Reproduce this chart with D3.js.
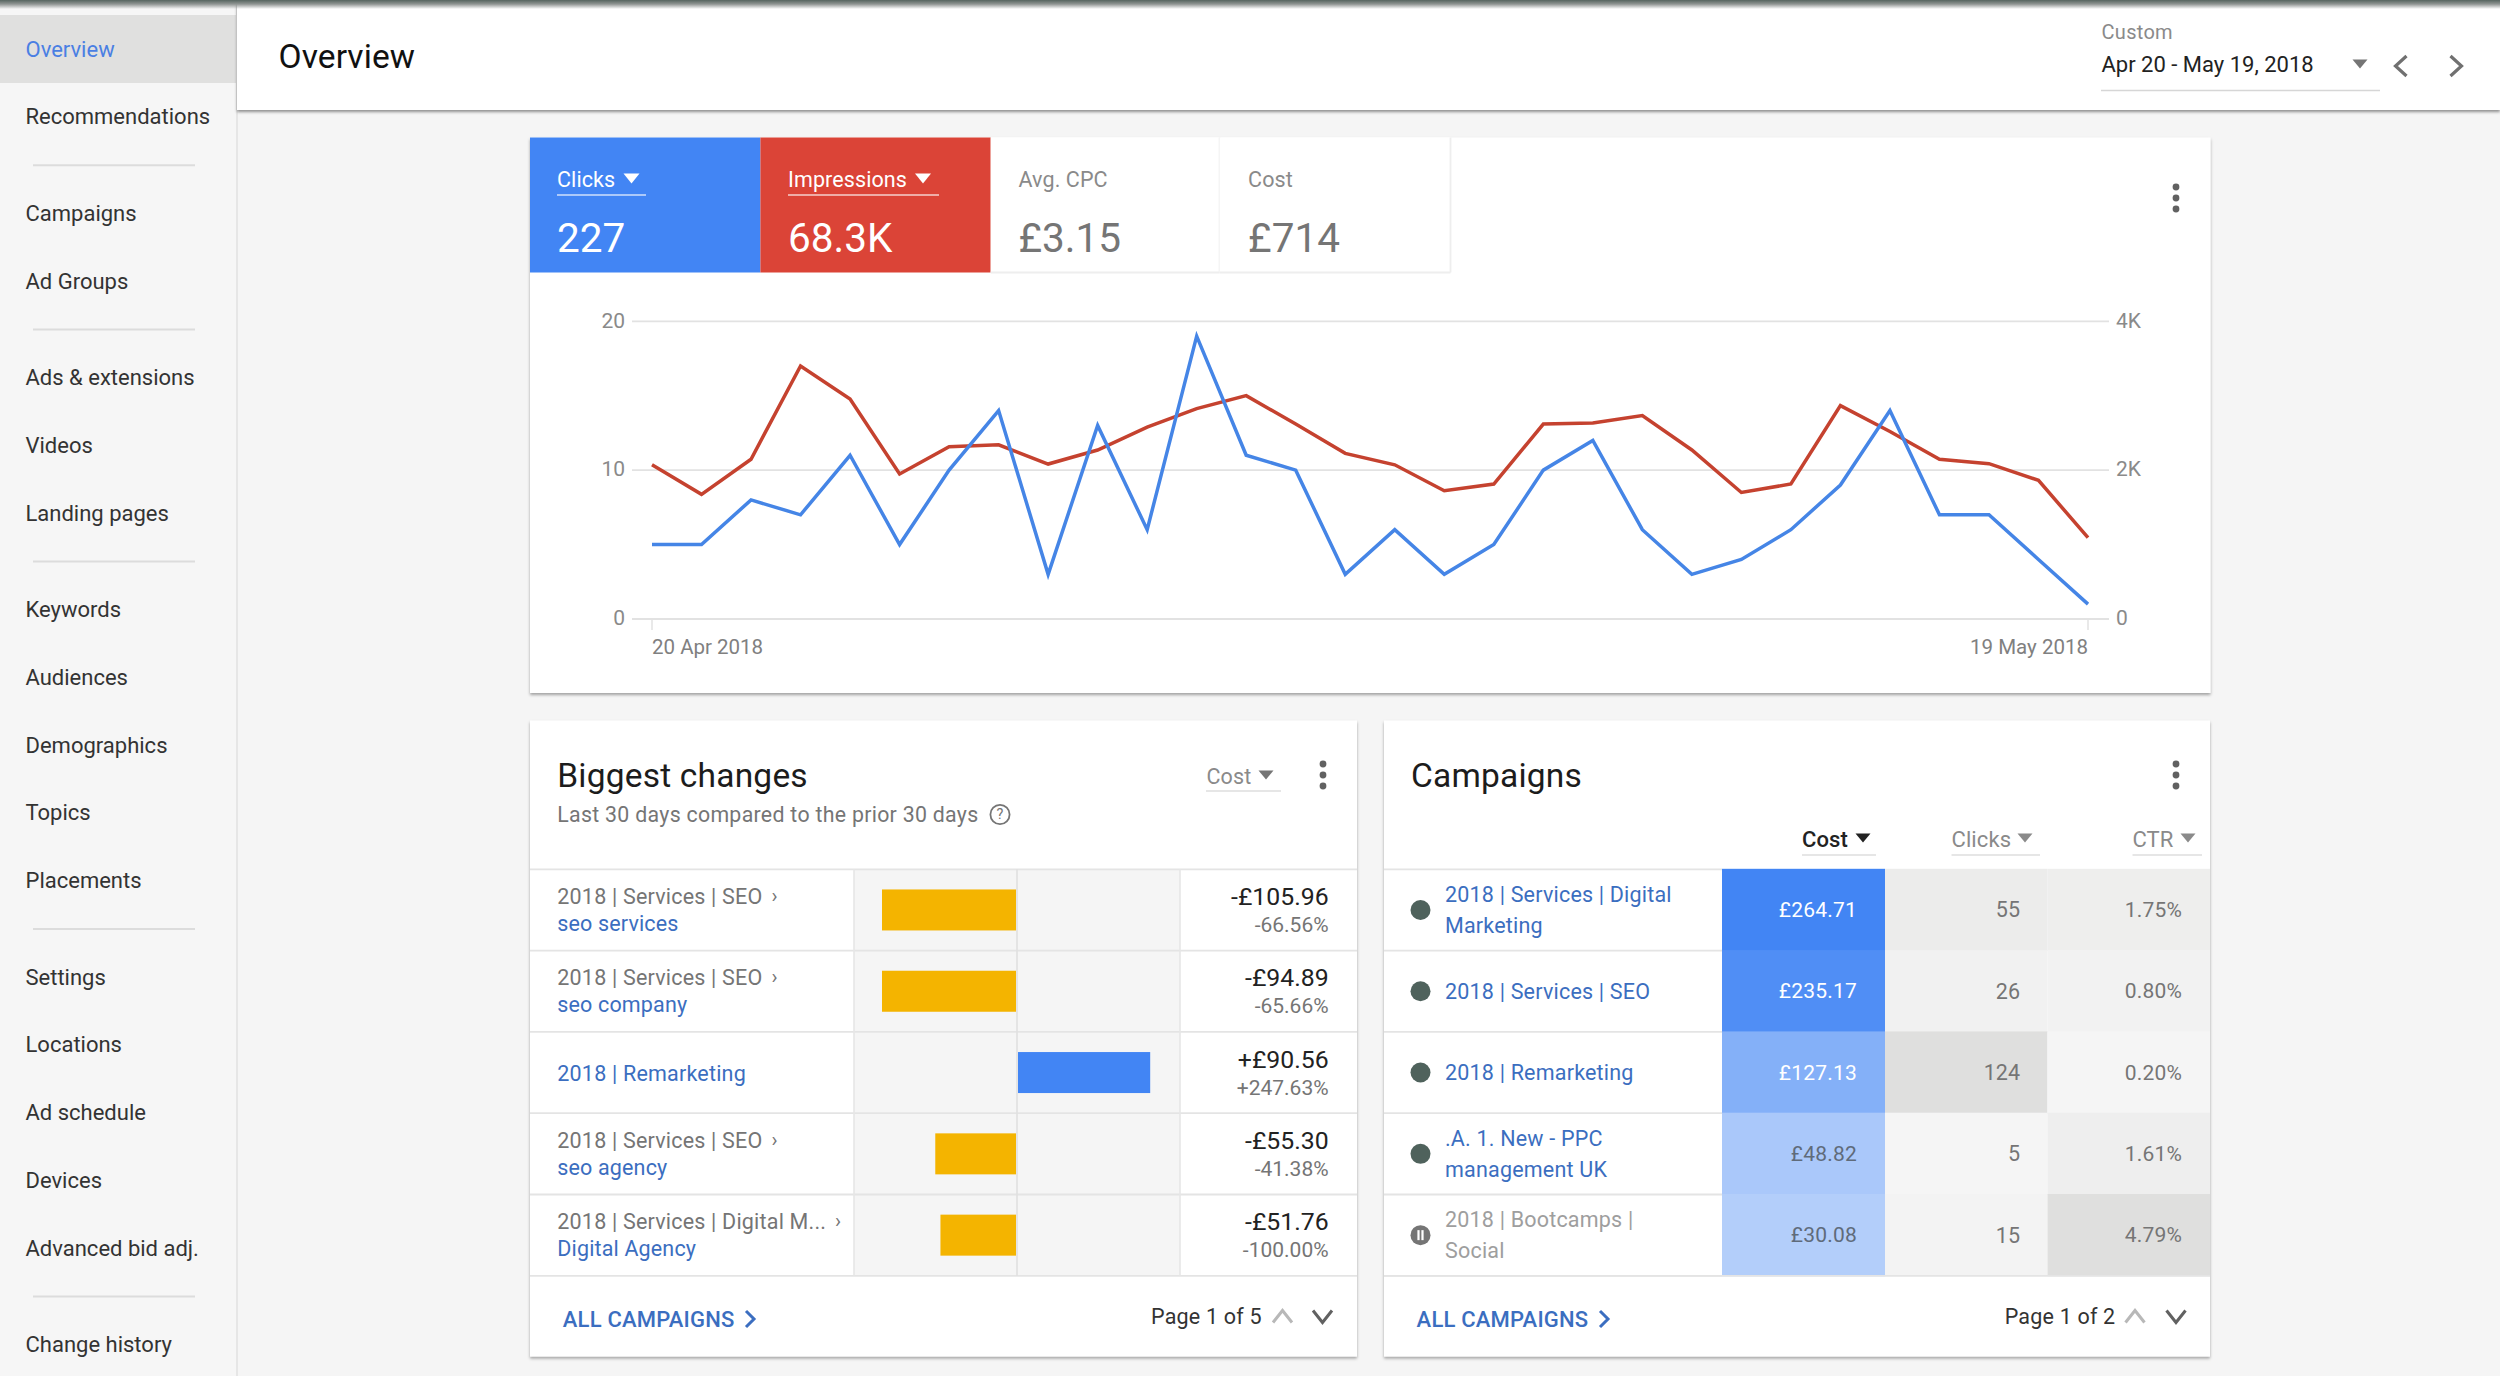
<!DOCTYPE html>
<html>
<head>
<meta charset="utf-8">
<script src="https://d3js.org/d3.v7.min.js"></script>
<style>
html,body{margin:0;padding:0;background:#f5f5f5;overflow:hidden}
svg{display:block}
text{font-family:Roboto,sans-serif;dominant-baseline:central}
</style>
</head>
<body>
<svg id="c" width="2500" height="1376"></svg>
<script>
// ---------- data ----------
const navItems = ["Overview","Recommendations",null,"Campaigns","Ad Groups",null,"Ads & extensions","Videos","Landing pages",null,"Keywords","Audiences","Demographics","Topics","Placements",null,"Settings","Locations","Ad schedule","Devices","Advanced bid adj.",null,"Change history"];
const clicksSeries = [5,5,8,7,11,5,10,14,3,13,6,19,11,10,3,6,3,5,10,12,6,3,4,6,9,14,7,7,4,1];
const impressionsSeries = [2072,1675,2147,3399,2957,1948,2316,2340,2082,2271,2579,2827,3001,2619,2226,2072,1724,1814,2619,2634,2733,2271,1700,1814,2867,2520,2147,2087,1863,1093];
const leftTicks = [0,10,20];
const rightTicks = [0,2000,4000];
const rightTickLabels = ["0","2K","4K"];
const dateLabels = ["20 Apr 2018","19 May 2018"];
const tabNames = ["Clicks","Impressions","Avg. CPC","Cost"];
const tabValues = ["227","68.3K","£3.15","£714"];
const changeParents = ["2018 | Services | SEO","2018 | Services | SEO",null,"2018 | Services | SEO","2018 | Services | Digital M..."];
const changeNames = ["seo services","seo company","2018 | Remarketing","seo agency","Digital Agency"];
const changeValues = [-105.96,-94.89,90.56,-55.30,-51.76];
const changePcts = ["-66.56%","-65.66%","+247.63%","-41.38%","-100.00%"];
const campaignLines = [["2018 | Services | Digital","Marketing"],["2018 | Services | SEO"],["2018 | Remarketing"],[".A. 1. New - PPC","management UK"],["2018 | Bootcamps |","Social"]];
const campaignPaused = [false,false,false,false,true];
const campaignCost = [264.71,235.17,127.13,48.82,30.08];
const campaignClicks = [55,26,124,5,15];
const campaignCtr = [1.75,0.80,0.20,1.61,4.79];

// ---------- helpers ----------
const svg = d3.select("#c");
const defs = svg.append("defs");
function shadow(id,dy,blur,op){
  const f=defs.append("filter").attr("id",id).attr("x","-5%").attr("y","-10%").attr("width","110%").attr("height","125%");
  f.append("feDropShadow").attr("dx",0).attr("dy",dy).attr("stdDeviation",blur).attr("flood-color","#000").attr("flood-opacity",op);
}
shadow("cardS",2,1.6,0.34);
shadow("headS",2,1.6,0.42);
const grad=defs.append("linearGradient").attr("id","topG").attr("x1",0).attr("x2",0).attr("y1",0).attr("y2",1);
grad.append("stop").attr("offset",0).attr("stop-color","#56655f");
grad.append("stop").attr("offset",.45).attr("stop-color","#8f9492");
grad.append("stop").attr("offset",1).attr("stop-color","#8f9492").attr("stop-opacity",0);

function T(g,x,y,s,size,fill,opt={}){
  return g.append("text").attr("x",x).attr("y",y).text(s).attr("font-size",size).attr("fill",fill)
    .attr("text-anchor",opt.anchor||"start").attr("font-weight",opt.weight||400)
    .attr("letter-spacing",opt.ls==null?null:opt.ls);
}
function R(g,x,y,w,h,fill){return g.append("rect").attr("x",x).attr("y",y).attr("width",w).attr("height",h).attr("fill",fill);}
function L(g,x1,y1,x2,y2,stroke,sw=2){return g.append("line").attr("x1",x1).attr("y1",y1).attr("x2",x2).attr("y2",y2).attr("stroke",stroke).attr("stroke-width",sw);}
function tri(g,cx,cy,fill,w=16,h=9){
  g.append("path").attr("fill",fill).attr("d",d3.line()([[cx-w/2,cy-h/2],[cx+w/2,cy-h/2],[cx,cy+h/2]])+"Z");
}
function chev(g,cx,cy,dir,stroke,sw=3.2,a=5.5,b=10){
  const pts={right:[[cx-a,cy-b],[cx+a,cy],[cx-a,cy+b]],left:[[cx+a,cy-b],[cx-a,cy],[cx+a,cy+b]],
    up:[[cx-b,cy+a],[cx,cy-a],[cx+b,cy+a]],down:[[cx-b,cy-a],[cx,cy+a],[cx+b,cy-a]]}[dir];
  g.append("path").attr("fill","none").attr("stroke",stroke).attr("stroke-width",sw).attr("d",d3.line()(pts));
}
function kebab(g,cx,cy){[-11,0,11].forEach(d=>g.append("circle").attr("cx",cx).attr("cy",cy+d).attr("r",3.4).attr("fill","#616161"));}

// ---------- page background / sidebar ----------
R(svg,0,0,2500,1376,"#f5f5f5");
const side=svg.append("g");
R(side,0,0,236,1376,"#f6f6f6");
R(side,236,0,2,1376,"#e6e6e6");
R(side,0,15,236,68,"#e0e0df");
let navY=49;
navItems.forEach((n,i)=>{
  if(n===null){
    L(side,33,navY-19.25,195,navY-19.25,"#dcdcdc",1.8);
    navY+=28.75;
  } else {
    T(side,25.5,navY,n,22,i===0?"#4a7fe3":"#333");
    navY+=67.75;
  }
});

// ---------- header ----------
const head=svg.append("g");
R(head,237,0,2263,110,"#fff").attr("filter","url(#headS)");
R(svg,0,0,2500,9,"url(#topG)");
T(head,278.5,56.5,"Overview",33.5,"#111",{weight:400,ls:.1});
T(head,2101.5,32,"Custom",20,"#8a8a8a",{ls:.3});
T(head,2101.5,64,"Apr 20 - May 19, 2018",22,"#222");
L(head,2101,90.5,2380,90.5,"#d6d6d6",1.6);
tri(head,2360,64,"#757575",15,9);
chev(head,2401,66,"left","#707070");
chev(head,2456,66,"right","#707070");

// ---------- overview card ----------
const card=svg.append("g");
R(card,530,137.5,1680.5,555.5,"#fff").attr("filter","url(#cardS)");
const tabEdges=[530,760.4,990.7,1219.6,1450.5];
const tabFill=["#4285f4","#db4437","#fff","#fff"];
tabNames.forEach((n,i)=>{
  const x0=tabEdges[i],x1=tabEdges[i+1];
  R(card,x0,137.5,x1-x0,135,tabFill[i]);
  const on=i<2, tx=x0+(i===0?27:i===1?27.6:i===2?27.8:28.5);
  T(card,tx,179,n,21.5,on?"#fff":"#8a8a8a",{ls:.1});
  T(card,tx,237.5,tabValues[i],40.5,on?"#fff":"#757575");
  if(on){
    L(card,tx,195,i===0?646:939,195,"rgba(255,255,255,.75)",1.6);
    tri(card,i===0?631.5:923,178.5,"#fff",16,10);
  } else {
    L(card,x1,137.5,x1,272.5,"#eeeeee",1.8);
    L(card,x0,272.5,x1,272.5,"#eeeeee",1.8);
  }
});
kebab(card,2176,198);

const xChart=d3.scaleLinear().domain([0,clicksSeries.length-1]).range([652,2088]);
const yClicks=d3.scaleLinear().domain([0,20]).range([619,321.3]);
const yImpr=d3.scaleLinear().domain([0,4000]).range([619,321.3]);
const gridG=card.append("g");
leftTicks.forEach(v=>L(gridG,632,yClicks(v),2109,yClicks(v),"#e2e2e2",1.8));
const axL=card.append("g").attr("transform","translate(632,0)")
  .call(d3.axisLeft(yClicks).tickValues(leftTicks).tickSize(0).tickPadding(7));
axL.select(".domain").remove();
axL.selectAll("text").attr("font-size",21).attr("fill","#8a8a8a").attr("font-family","Roboto,sans-serif").attr("dy",null).attr("y",-1.2);
const axR=card.append("g").attr("transform","translate(2109,0)")
  .call(d3.axisRight(yImpr).tickValues(rightTicks).tickSize(0).tickPadding(7).tickFormat((d,i)=>rightTickLabels[i]));
axR.select(".domain").remove();
axR.selectAll("text").attr("font-size",21).attr("fill","#8a8a8a").attr("font-family","Roboto,sans-serif").attr("dy",null).attr("y",-1.2);
[0,clicksSeries.length-1].forEach(i=>L(card,xChart(i),619,xChart(i),630,"#e2e2e2",1.5));
T(card,xChart(0),647,dateLabels[0],20.5,"#808080");
T(card,xChart(clicksSeries.length-1),647,dateLabels[1],20.5,"#808080",{anchor:"end"});
const lineC=d3.line().x((d,i)=>xChart(i)).y(d=>yClicks(d));
const lineI=d3.line().x((d,i)=>xChart(i)).y(d=>yImpr(d));
card.append("path").datum(impressionsSeries).attr("d",lineI).attr("fill","none").attr("stroke","#c5422f").attr("stroke-width",3.5);
card.append("path").datum(clicksSeries).attr("d",lineC).attr("fill","none").attr("stroke","#4585e6").attr("stroke-width",3.5);

// ---------- shared table geometry ----------
const rowY=d3.scaleLinear().domain([0,5]).range([869.3,1275.8]);
function rowLines(g,x0,x1){d3.range(6).forEach(i=>L(g,x0,rowY(i),x1,rowY(i),"#e4e4e4",1.8));}
function footer(g,x,chevX,label,pageX,upX,downX){
  T(g,x,1319,"ALL CAMPAIGNS",22,"#3b6ec0",{weight:500,ls:.2});
  chev(g,chevX,1319,"right","#3b6ec0",3,4,8);
  T(g,pageX,1316.5,label,21.5,"#333",{ls:.2});
  chev(g,upX,1316.5,"up","#b8b8b8",3,6,9.5);
  chev(g,downX,1316.5,"down","#616161",3,6,9.5);
}

// ---------- biggest changes ----------
const bc=svg.append("g");
R(bc,530,720.5,827,636,"#fff").attr("filter","url(#cardS)");
T(bc,557.3,775,"Biggest changes",33.5,"#1c1c1c",{ls:.2});
T(bc,557.3,814.5,"Last 30 days compared to the prior 30 days",21.3,"#757575",{ls:.3});
bc.append("circle").attr("cx",1000).attr("cy",814.5).attr("r",9.6).attr("fill","none").attr("stroke","#757575").attr("stroke-width",1.8);
T(bc,1000,814.5,"?",14.5,"#757575",{anchor:"middle"});
T(bc,1206.5,776,"Cost",21.5,"#8a8a8a",{ls:.1});
L(bc,1206,791,1281,791,"#dedede",1.6);
tri(bc,1266,775,"#757575",15,9);
kebab(bc,1323,775);
R(bc,854,rowY(0),326,rowY(5)-rowY(0),"#f5f5f5");
rowLines(bc,530,1357);
L(bc,854,rowY(0),854,rowY(5),"#e6e6e6",1.6);
L(bc,1180,rowY(0),1180,rowY(5),"#e6e6e6",1.6);
L(bc,1017,rowY(0),1017,rowY(5),"#e0e0e0",1.6);
const barW=d3.scaleLinear().domain([0,91.8]).range([0,134]).clamp(true);
changeNames.forEach((n,i)=>{
  const yc=(rowY(i)+rowY(i+1))/2,v=changeValues[i];
  const w=barW(Math.abs(v));
  R(bc,v<0?1016-w:1018,yc-20.5,w,41,v<0?"#f4b400":"#4285f4");
  if(changeParents[i]){
    T(bc,557.3,yc-13.3,changeParents[i],21.5,"#757575",{ls:.2});
    T(bc,i===4?835:771.5,yc-13.8,"›",20,"#757575");
    T(bc,557.3,yc+13.4,n,21.5,"#3b6ec0",{ls:.15});
  } else {
    T(bc,557.3,yc+.5,n,21.5,"#3b6ec0",{ls:.2});
  }
  const s=(v<0?"-":"+")+"£"+Math.abs(v).toFixed(2);
  T(bc,1328.6,yc-13.5,s,24.8,"#222",{anchor:"end"});
  T(bc,1328.6,yc+15,changePcts[i],21,"#757575",{anchor:"end"});
});
footer(bc,562.8,750,"Page 1 of 5",1151,1282.5,1322.5);

// ---------- campaigns ----------
const cp=svg.append("g");
R(cp,1384,720.5,826,636,"#fff").attr("filter","url(#cardS)");
T(cp,1411,775,"Campaigns",33.5,"#1c1c1c",{ls:.2});
kebab(cp,2176,775);
const headers=[["Cost",1802,1863,1876,"#222",500],["Clicks",1951.5,2025,2040,"#8a8a8a",400],["CTR",2132.5,2188,2202,"#8a8a8a",400]];
headers.forEach(h=>{
  T(cp,h[1],839.5,h[0],22,h[4],{weight:h[5],ls:.1});
  tri(cp,h[2],838,h[5]===500?"#222":"#8a8a8a",15,9);
  L(cp,h[1],855,h[3],855,"#dedede",1.6);
});
const costColor=d3.scaleLinear().domain(d3.extent(campaignCost)).range(["#b3cefa","#4285f4"]);
const clicksColor=d3.scaleLinear().domain(d3.extent(campaignClicks)).range(["#f5f5f5","#dfdfde"]);
const ctrColor=d3.scaleLinear().domain(d3.extent(campaignCtr)).range(["#f5f5f5","#dfdfde"]);
rowLines(cp,1384,1722);
campaignLines.forEach((ls,i)=>{
  const y0=rowY(i),y1=rowY(i+1),yc=(y0+y1)/2;
  R(cp,1722,y0-.5,163,y1-y0+1,costColor(campaignCost[i]));
  R(cp,1885,y0-.5,162.5,y1-y0+1,clicksColor(campaignClicks[i]));
  R(cp,2047.5,y0-.5,162.5,y1-y0+1,ctrColor(campaignCtr[i]));
  const paused=campaignPaused[i];
  cp.append("circle").attr("cx",1420.5).attr("cy",yc).attr("r",10).attr("fill",paused?"#757575":"#4f625c");
  if(paused){R(cp,1417.4,yc-5,2.2,10,"#fff");R(cp,1421.4,yc-5,2.2,10,"#fff");}
  ls.forEach((t,k)=>T(cp,1445,yc+(ls.length===2?(k===0?-15.2:15.4):0),t,21.5,paused?"#9e9e9e":"#3b6ec0",{ls:.2}));
  T(cp,1857,yc,"£"+campaignCost[i].toFixed(2),21,i<3?"#fff":"#5f6b7a",{anchor:"end",ls:.2});
  T(cp,2020,yc,String(campaignClicks[i]),21.5,"#757575",{anchor:"end"});
  T(cp,2182,yc,campaignCtr[i].toFixed(2)+"%",21,"#757575",{anchor:"end",ls:.2});
});
L(cp,1384,rowY(5),2210,rowY(5),"#e4e4e4",1.8);
footer(cp,1416.6,1604,"Page 1 of 2",2004.7,2135,2176);
</script>
</body>
</html>
